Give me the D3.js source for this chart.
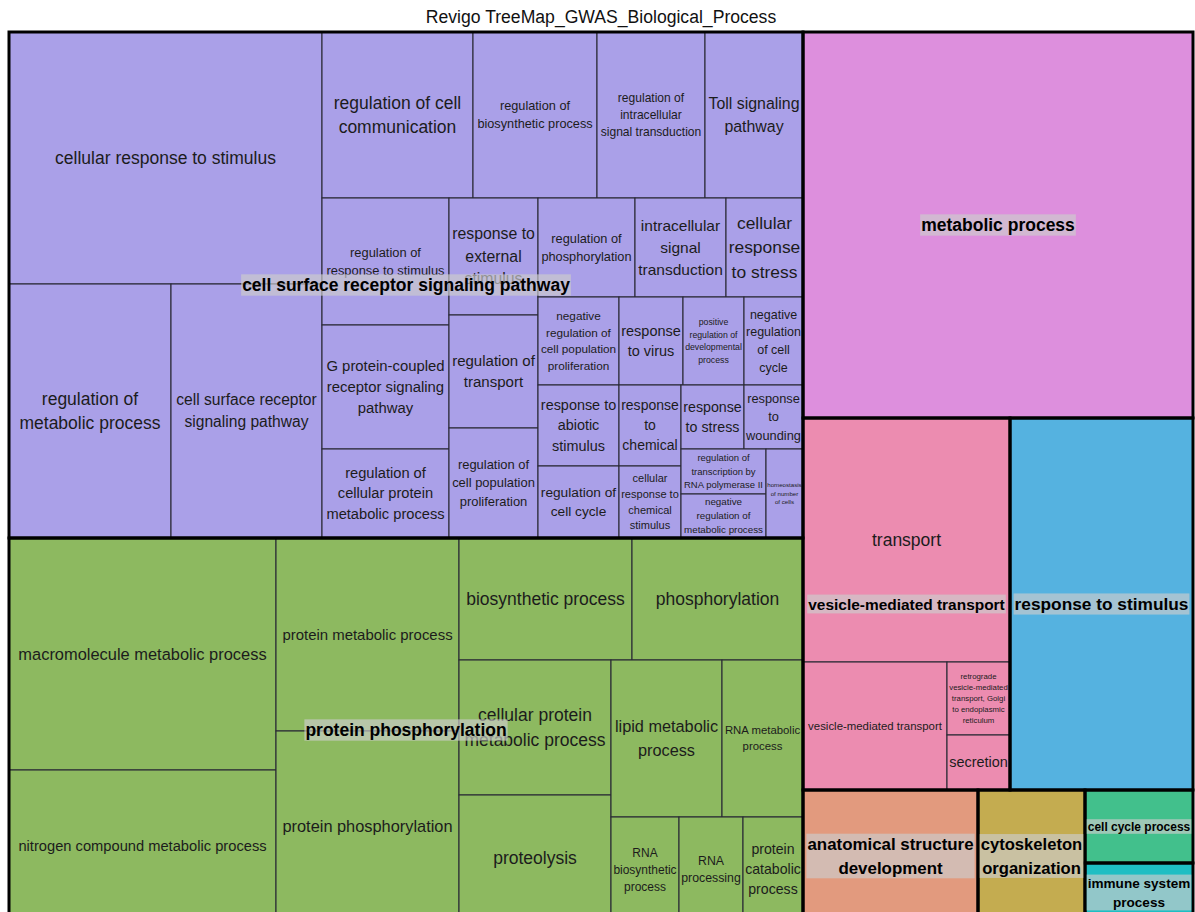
<!DOCTYPE html>
<html><head><meta charset="utf-8">
<script src="https://cdn.jsdelivr.net/npm/d3@7"></script>
<style>
body{margin:0;background:#fff;}
text{font-family:"Liberation Sans",Arial,Helvetica,sans-serif;}
</style>
</head><body>
<svg id="chart" width="1195" height="912"></svg>
<script>
// ---------------- DATA ----------------
const chartTitle = "Revigo TreeMap_GWAS_Biological_Process";

const groupNames = [
  "cell surface receptor signaling pathway",
  "protein phosphorylation",
  "metabolic process",
  "vesicle-mediated transport",
  "response to stimulus",
  "anatomical structure development",
  "cytoskeleton organization",
  "cell cycle process",
  "immune system process"
];
const groupLabelLines = [
  ["cell surface receptor signaling pathway"],
  ["protein phosphorylation"],
  ["metabolic process"],
  ["vesicle-mediated transport"],
  ["response to stimulus"],
  ["anatomical structure", "development"],
  ["cytoskeleton", "organization"],
  ["cell cycle process"],
  ["immune system", "process"]
];

const termNames = [
  // cell surface receptor signaling pathway
  "cellular response to stimulus",
  "regulation of metabolic process",
  "cell surface receptor signaling pathway",
  "regulation of cell communication",
  "regulation of biosynthetic process",
  "regulation of intracellular signal transduction",
  "Toll signaling pathway",
  "regulation of response to stimulus",
  "G protein-coupled receptor signaling pathway",
  "regulation of cellular protein metabolic process",
  "response to external stimulus",
  "regulation of transport",
  "regulation of cell population proliferation",
  "regulation of phosphorylation",
  "intracellular signal transduction",
  "cellular response to stress",
  "negative regulation of cell population proliferation",
  "response to abiotic stimulus",
  "regulation of cell cycle",
  "response to virus",
  "positive regulation of developmental process",
  "negative regulation of cell cycle",
  "response to chemical",
  "cellular response to chemical stimulus",
  "response to stress",
  "response to wounding",
  "regulation of transcription by RNA polymerase II",
  "negative regulation of metabolic process",
  "homeostasis of number of cells",
  // protein phosphorylation
  "macromolecule metabolic process",
  "nitrogen compound metabolic process",
  "protein metabolic process",
  "protein phosphorylation",
  "biosynthetic process",
  "phosphorylation",
  "cellular protein metabolic process",
  "proteolysis",
  "lipid metabolic process",
  "RNA metabolic process",
  "RNA biosynthetic process",
  "RNA processing",
  "protein catabolic process",
  // metabolic process
  "metabolic process",
  // vesicle-mediated transport
  "transport",
  "vesicle-mediated transport",
  "retrograde vesicle-mediated transport, Golgi to endoplasmic reticulum",
  "secretion",
  // singles
  "response to stimulus",
  "anatomical structure development",
  "cytoskeleton organization",
  "cell cycle process",
  "immune system process"
];

// relative term sizes (read as areas from the picture)
const termSizes = [
  78876, 41148, 38354, 25066, 20584, 17928, 16268, 16129, 15748, 11303,
  10413, 10057, 9790, 9603, 9009, 7623, 7128, 6561, 5832, 5632,
  5368, 5192, 5022, 4464, 4032, 3776, 3825, 3740, 3293,
  61944, 40584, 35319, 34953, 21106, 20862, 20520, 19304, 17427, 12717,
  7140, 6720, 6300,
  150540,
  50508, 18432, 4599, 3465,
  68076, 23100, 14124, 7884, 6372
];

// label line breaks as shown in the treemap
const termLabelLines = [
  ["cellular response to stimulus"],
  ["regulation of", "metabolic process"],
  ["cell surface receptor", "signaling pathway"],
  ["regulation of cell", "communication"],
  ["regulation of", "biosynthetic process"],
  ["regulation of", "intracellular", "signal transduction"],
  ["Toll signaling", "pathway"],
  ["regulation of", "response to stimulus"],
  ["G protein-coupled", "receptor signaling", "pathway"],
  ["regulation of", "cellular protein", "metabolic process"],
  ["response to", "external", "stimulus"],
  ["regulation of", "transport"],
  ["regulation of", "cell population", "proliferation"],
  ["regulation of", "phosphorylation"],
  ["intracellular", "signal", "transduction"],
  ["cellular", "response", "to stress"],
  ["negative", "regulation of", "cell population", "proliferation"],
  ["response to", "abiotic", "stimulus"],
  ["regulation of", "cell cycle"],
  ["response", "to virus"],
  ["positive", "regulation of", "developmental", "process"],
  ["negative", "regulation", "of cell", "cycle"],
  ["response", "to", "chemical"],
  ["cellular", "response to", "chemical", "stimulus"],
  ["response", "to stress"],
  ["response", "to", "wounding"],
  ["regulation of", "transcription by", "RNA polymerase II"],
  ["negative", "regulation of", "metabolic process"],
  ["homeostasis", "of number", "of cells"],
  ["macromolecule metabolic process"],
  ["nitrogen compound metabolic process"],
  ["protein metabolic process"],
  ["protein phosphorylation"],
  ["biosynthetic process"],
  ["phosphorylation"],
  ["cellular protein", "metabolic process"],
  ["proteolysis"],
  ["lipid metabolic", "process"],
  ["RNA metabolic", "process"],
  ["RNA", "biosynthetic", "process"],
  ["RNA", "processing"],
  ["protein", "catabolic", "process"],
  ["metabolic process"],
  ["transport"],
  ["vesicle-mediated transport"],
  ["retrograde", "vesicle-mediated", "transport, Golgi", "to endoplasmic", "reticulum"],
  ["secretion"],
  ["response to stimulus"],
  ["anatomical structure", "development"],
  ["cytoskeleton", "organization"],
  ["cell cycle process"],
  ["immune system", "process"]
];

// nesting of the tiles: "H" = side by side, "V" = stacked
const groupLayouts = [
  ["H",
    ["V", "cellular response to stimulus",
      ["H", "regulation of metabolic process", "cell surface receptor signaling pathway"]],
    ["V",
      ["H", "regulation of cell communication", "regulation of biosynthetic process",
            "regulation of intracellular signal transduction", "Toll signaling pathway"],
      ["H",
        ["V", "regulation of response to stimulus", "G protein-coupled receptor signaling pathway",
              "regulation of cellular protein metabolic process"],
        ["V", "response to external stimulus", "regulation of transport",
              "regulation of cell population proliferation"],
        ["V",
          ["H", "regulation of phosphorylation", "intracellular signal transduction", "cellular response to stress"],
          ["H",
            ["V", "negative regulation of cell population proliferation", "response to abiotic stimulus",
                  "regulation of cell cycle"],
            ["V",
              ["H", "response to virus", "positive regulation of developmental process",
                    "negative regulation of cell cycle"],
              ["H",
                ["V", "response to chemical", "cellular response to chemical stimulus"],
                ["V",
                  ["H", "response to stress", "response to wounding"],
                  ["H",
                    ["V", "regulation of transcription by RNA polymerase II",
                          "negative regulation of metabolic process"],
                    "homeostasis of number of cells"]]]]]]]]],
  ["H",
    ["V", "macromolecule metabolic process", "nitrogen compound metabolic process"],
    ["V", "protein metabolic process", "protein phosphorylation"],
    ["V",
      ["H", "biosynthetic process", "phosphorylation"],
      ["H",
        ["V", "cellular protein metabolic process", "proteolysis"],
        ["V",
          ["H", "lipid metabolic process", "RNA metabolic process"],
          ["H", "RNA biosynthetic process", "RNA processing", "protein catabolic process"]]]]],
  "metabolic process",
  ["V", "transport",
    ["H", "vesicle-mediated transport",
      ["V", "retrograde vesicle-mediated transport, Golgi to endoplasmic reticulum", "secretion"]]],
  "response to stimulus",
  "anatomical structure development",
  "cytoskeleton organization",
  "cell cycle process",
  "immune system process"
];
// numbers = group index
const topLayout = ["H", ["V", 0, 1], ["V", 2, ["H", 3, 4], ["H", 5, 6, ["V", 7, 8]]]];

// ---------------- STYLE ----------------
const groupColors = ["#aaa0e8", "#8db960", "#dd8fdd", "#ec8cb0", "#55b2e0",
                     "#e29a7e", "#c4ac50", "#42c08c", "#1ebec3"];
const W = 1195, H = 912;
const margin = {left: 9, top: 32, right: 2, bottom: -10};
const FMAX = 17.5, LH = 1.42;

// ---------------- BUILD ----------------
function buildTerm(name) {
  const i = termNames.indexOf(name);
  return {term: i, name: name, value: termSizes[i]};
}
function buildSpec(spec) {
  if (typeof spec === "string") return buildTerm(spec);
  return {dir: spec[0], children: spec.slice(1).map(buildSpec)};
}
function buildTop(spec) {
  if (typeof spec === "number") {
    const s = groupLayouts[spec];
    const node = typeof s === "string" ? {dir: "H", children: [buildTerm(s)]} : buildSpec(s);
    node.group = spec;
    return node;
  }
  return {dir: spec[0], children: spec.slice(1).map(buildTop)};
}

const rootData = buildTop(topLayout);
const root = d3.hierarchy(rootData).sum(d => d.children ? 0 : d.value);
const tile = (node, x0, y0, x1, y1) =>
  (node.data.dir === "V" ? d3.treemapSlice : d3.treemapDice)(node, x0, y0, x1, y1);
const iw = W - margin.left - margin.right, ih = H - margin.top - margin.bottom;
d3.treemap().tile(tile).size([iw, ih]).round(false)(root);

const svg = d3.select("#chart");
svg.append("text").attr("x", margin.left + iw / 2).attr("y", 23)
  .attr("text-anchor", "middle").attr("font-size", 17.6).attr("fill", "#111").text(chartTitle);

const g = svg.append("g").attr("transform", `translate(${margin.left},${margin.top})`);

// text measurement helper
const meas = svg.append("text").attr("x", -1000).attr("y", -1000).attr("font-size", 100);
function textW(s, bold) {
  meas.attr("font-weight", bold ? "bold" : "normal").text(s);
  return meas.node().getComputedTextLength() / 100;
}
function fitSize(lines, w, h, pad, bold) {
  const mw = d3.max(lines, l => textW(l, bold));
  return Math.min(FMAX, (w * pad) / mw, (h * 0.95) / (lines.length * LH));
}

const groupOf = n => { let a = n; while (a && a.data.group === undefined) a = a.parent; return a; };
const leaves = root.leaves();
const groupNodes = root.descendants().filter(d => d.data.group !== undefined);

// leaf cells
g.selectAll("rect.leaf").data(leaves).join("rect").attr("class", "leaf")
  .attr("x", d => d.x0).attr("y", d => d.y0)
  .attr("width", d => d.x1 - d.x0).attr("height", d => d.y1 - d.y0)
  .attr("fill", d => groupColors[groupOf(d).data.group])
  .attr("stroke", "#2a2a35").attr("stroke-width", 1.1);

// leaf labels (skip those alone in their group)
leaves.forEach(d => {
  const gn = groupOf(d);
  if (gn.leaves().length === 1) return;
  const lines = termLabelLines[d.data.term];
  const w = d.x1 - d.x0, h = d.y1 - d.y0;
  const f = fitSize(lines, w, h, 0.93, false);
  const cx = (d.x0 + d.x1) / 2, cy = (d.y0 + d.y1) / 2;
  const t = g.append("text").attr("text-anchor", "middle").attr("font-size", f.toFixed(2))
    .attr("fill", "#1c1c1c");
  lines.forEach((l, i) => {
    t.append("tspan").attr("x", cx)
      .attr("y", cy + (i - (lines.length - 1) / 2) * f * LH + 0.34 * f).text(l);
  });
});

// group borders
g.selectAll("rect.grp").data(groupNodes).join("rect").attr("class", "grp")
  .attr("x", d => d.x0).attr("y", d => d.y0)
  .attr("width", d => d.x1 - d.x0).attr("height", d => d.y1 - d.y0)
  .attr("fill", "none").attr("stroke", "#000").attr("stroke-width", 3);

// group labels
groupNodes.forEach(d => {
  const gi = d.data.group;
  const lines = groupLabelLines[gi];
  const w = d.x1 - d.x0, h = d.y1 - d.y0;
  const f = fitSize(lines, w, h, 0.95, true);
  const cx = (d.x0 + d.x1) / 2, cy = (d.y0 + d.y1) / 2;
  const mw = d3.max(lines, l => textW(l, true)) * f;
  const bh = f * (1.22 + (lines.length - 1) * LH);
  g.append("rect").attr("x", cx - mw / 2 - 1).attr("y", cy - bh / 2)
    .attr("width", mw + 2).attr("height", bh).attr("fill", "#cccccc").attr("fill-opacity", 0.667);
  const t = g.append("text").attr("text-anchor", "middle").attr("font-size", f.toFixed(2))
    .attr("font-weight", "bold").attr("fill", "#000");
  lines.forEach((l, i) => {
    t.append("tspan").attr("x", cx)
      .attr("y", cy + (i - (lines.length - 1) / 2) * f * LH + 0.36 * f).text(l);
  });
});
meas.remove();
</script>
</body></html>
